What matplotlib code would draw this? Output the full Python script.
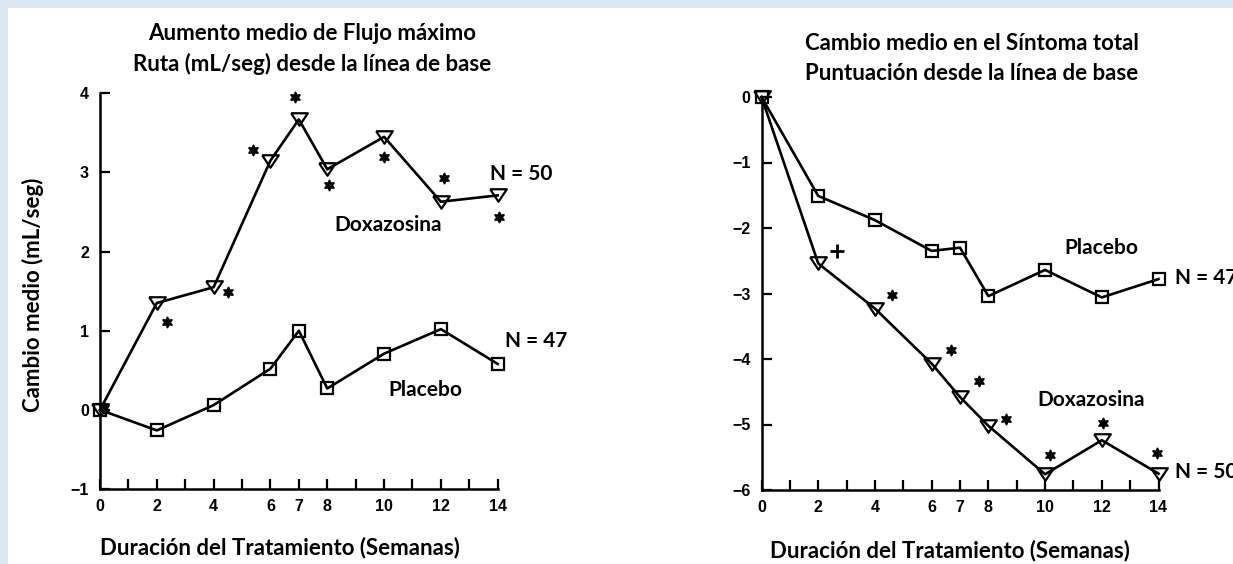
import matplotlib
matplotlib.use("Agg")
import matplotlib.pyplot as plt
from matplotlib.patches import Rectangle

# ---- data -------------------------------------------------------------
weeks = [0, 2, 4, 6, 7, 8, 10, 12, 14]
week_labels = ["0", "2", "4", "6", "7", "8", "10", "12", "14"]

# Peak urinary flow rate: mean change from baseline (mL/seg)
flow_doxazosina = [0.0, 1.35, 1.55, 3.15, 3.67, 3.04, 3.45, 2.63, 2.71]
flow_placebo = [0.0, -0.26, 0.06, 0.52, 1.0, 0.27, 0.71, 1.02, 0.58]
flow_star_x = [0.15, 2.37, 4.52, 5.4, 6.85, 8.07, 9.98, 12.12, 14.05]
flow_star_y = [0.02, 1.11, 1.49, 3.28, 3.95, 2.84, 3.2, 2.93, 2.44]

# Total symptom score: mean change from baseline
sym_doxazosina = [0.0, -2.54, -3.23, -4.07, -4.58, -5.02, -5.76, -5.24, -5.75]
sym_placebo = [0.0, -1.51, -1.88, -2.35, -2.3, -3.04, -2.64, -3.06, -2.78]
sym_star_x = [4.59, 6.67, 7.68, 8.61, 10.17, 12.03, 13.93]
sym_star_y = [-3.03, -3.86, -4.34, -4.91, -5.47, -4.98, -5.44]
sym_plus_x = [2.67]
sym_plus_y = [-2.35]

# ---- figure -------------------------------------------------------------
plt.rcParams["font.family"] = ["Liberation Sans", "DejaVu Sans"]
plt.rcParams["font.weight"] = "bold"

W, H = 1233, 564
fig = plt.figure(figsize=(W / 100, H / 100), dpi=100)
fig.patch.set_facecolor("#dde7f2")
fig.patches.append(Rectangle((8 / W, 0), 1 - 8 / W, 1 - 8 / H,
                             transform=fig.transFigure, facecolor="white",
                             edgecolor="none", zorder=-5))

FONT = "Lato"
tri = [(-1, 0.75), (1, 0.75), (0, -0.75), (-1, 0.75)]


def px_axes(x0, x1, y_top, y_bot):
    return fig.add_axes([x0 / W, 1 - y_bot / H, (x1 - x0) / W, (y_bot - y_top) / H])


def style_axes(ax, ymin, ymax):
    ax.set_facecolor("none")
    ax.set_zorder(2)
    ax.set_xlim(0, 14)
    ax.set_ylim(ymin, ymax)
    for s in ("top", "right"):
        ax.spines[s].set_visible(False)
    for s in ("left", "bottom"):
        ax.spines[s].set_linewidth(1.8)
    ax.set_xticks(range(15))
    ax.set_xticklabels([week_labels[weeks.index(w)] if w in weeks else "" for w in range(15)])
    ax.set_yticks(range(ymin, ymax + 1))
    ax.tick_params(direction="in", length=7, width=1.6, labelsize=11.5)
    ax.tick_params(axis="y", pad=8)
    ax.tick_params(axis="x", pad=7)


def draw_series(ax, y, marker, ms):
    ax.plot(weeks, y, color="black", lw=1.9, marker=marker, ms=ms,
            mfc="none", mec="black", mew=1.6, clip_on=False, zorder=3)


# ---- left panel: flow rate ----------------------------------------------
ax1 = px_axes(100, 497.7, 93.3, 489)
style_axes(ax1, -1, 4)
draw_series(ax1, flow_placebo, "s", 8.5)
draw_series(ax1, flow_doxazosina, tri, 12)
ax1.plot(flow_star_x, flow_star_y, ls="none", marker=(6, 1, 0), ms=8,
         color="black", clip_on=False, zorder=4)

txt = dict(fontfamily=FONT, fontweight="bold", fontsize=15, color="black")
ax1.text(13.73, 2.98, "N = 50", ha="left", va="center", **txt)
ax1.text(10.16, 2.34, "Doxazosina", ha="center", va="center", **txt)
ax1.text(11.44, 0.245, "Placebo", ha="center", va="center", **txt)
ax1.text(14.26, 0.87, "N = 47", ha="left", va="center", **txt)

# ---- right panel: symptom score -----------------------------------------
ax2 = px_axes(761.5, 1158.5, 97, 490)
style_axes(ax2, -6, 0)
draw_series(ax2, sym_placebo, "s", 8.5)
draw_series(ax2, sym_doxazosina, tri, 12)
ax2.plot(sym_star_x, sym_star_y, ls="none", marker=(6, 1, 0), ms=8,
         color="black", clip_on=False, zorder=4)
ax2.plot(sym_plus_x, sym_plus_y, ls="none", marker="+", ms=10, mew=2,
         color="black", clip_on=False, zorder=4)

ax2.text(11.98, -2.31, "Placebo", ha="center", va="center", **txt)
ax2.text(14.58, -2.77, "N = 47", ha="left", va="center", **txt)
ax2.text(11.61, -4.62, "Doxazosina", ha="center", va="center", **txt)
ax2.text(14.58, -5.72, "N = 50", ha="left", va="center", **txt)

# ---- titles and axis labels --------------------------------------------
lab = dict(fontfamily=FONT, fontweight="bold", fontsize=16, color="black",
           ha="center", va="center")
fig.text(312 / W, 1 - 33 / H, "Aumento medio de Flujo máximo", **lab)
fig.text(312 / W, 1 - 64 / H, "Ruta (mL/seg) desde la línea de base", **lab)
fig.text(972 / W, 1 - 43 / H, "Cambio medio en el Síntoma total", **lab)
fig.text(972 / W, 1 - 74 / H, "Puntuación desde la línea de base", **lab)
fig.text(280 / W, 1 - 548 / H, "Duración del Tratamiento (Semanas)", **lab)
fig.text(950 / W, 1 - 551 / H, "Duración del Tratamiento (Semanas)", **lab)
fig.text(33 / W, 1 - 295 / H, "Cambio medio (mL/seg)", rotation=90, **lab)

fig.savefig("out.png", dpi=100, facecolor=fig.get_facecolor())
